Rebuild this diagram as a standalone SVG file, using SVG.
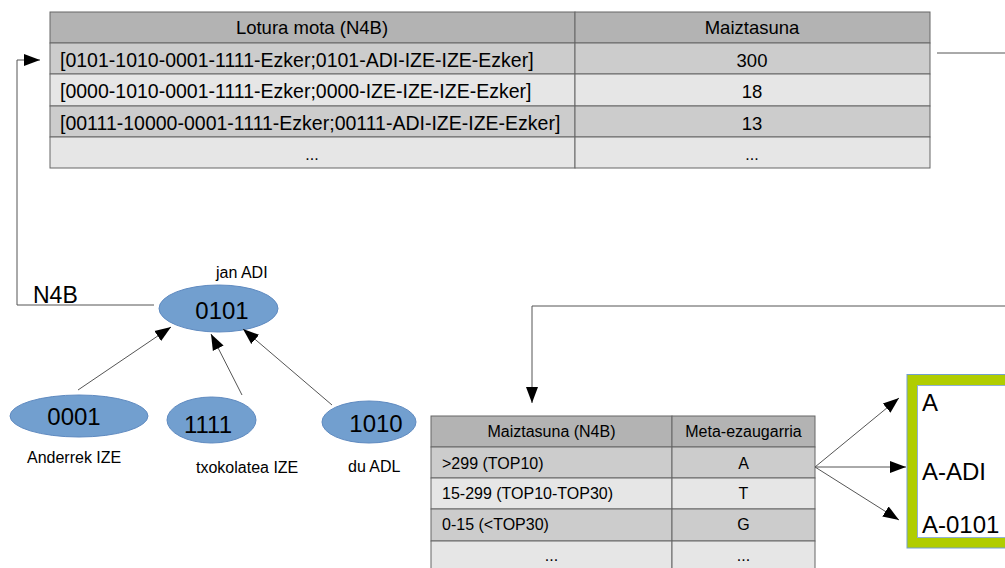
<svg xmlns="http://www.w3.org/2000/svg" width="1005" height="568" viewBox="0 0 1005 568">
  <style>
    text { font-family: "Liberation Sans", Arial, sans-serif; fill: #000; }
    .hd { fill: #b3b3b3; stroke: #666; stroke-width: 1; }
    .dk { fill: #cccccc; stroke: #666; stroke-width: 1; }
    .lt { fill: #e6e6e6; stroke: #666; stroke-width: 1; }
    .t0 { font-size: 18.5px; }
    .t1 { font-size: 19.5px; }
    .t2 { font-size: 16px; }
    .mid { text-anchor: middle; }
    .node { fill: #729fcf; stroke: #5f8ac0; stroke-width: 1; }
    .num { font-size: 24px; }
    .lbl { font-size: 16px; }
    .conn { fill: none; stroke: #555; stroke-width: 1; }
    .big { font-size: 24px; }
  </style>
  <defs>
    <marker id="arr" markerUnits="userSpaceOnUse" markerWidth="16" markerHeight="14" refX="16" refY="7" orient="auto">
      <path d="M0,1 L16,7 L0,13 Z" fill="#000"/>
    </marker>
  </defs>

  <rect width="1005" height="568" fill="#fff"/>

  <!-- link-type frequency table -->
  <g id="table-lotura">
    <rect class="hd" x="50" y="12" width="525" height="31"/>
    <rect class="hd" x="575" y="12" width="355" height="31"/>
    <rect class="dk" x="50" y="43" width="525" height="31"/>
    <rect class="dk" x="575" y="43" width="355" height="31"/>
    <rect class="lt" x="50" y="74" width="525" height="32"/>
    <rect class="lt" x="575" y="74" width="355" height="32"/>
    <rect class="dk" x="50" y="106" width="525" height="31"/>
    <rect class="dk" x="575" y="106" width="355" height="31"/>
    <rect class="lt" x="50" y="137" width="525" height="31"/>
    <rect class="lt" x="575" y="137" width="355" height="31"/>
    <text class="t0 mid" x="312" y="34">Lotura mota (N4B)</text>
    <text class="t0 mid" x="752" y="34">Maiztasuna</text>
    <text class="t1" x="60" y="67">[0101-1010-0001-1111-Ezker;0101-ADI-IZE-IZE-Ezker]</text>
    <text class="t0 mid" x="752" y="67">300</text>
    <text class="t1" x="60" y="98">[0000-1010-0001-1111-Ezker;0000-IZE-IZE-IZE-Ezker]</text>
    <text class="t0 mid" x="752" y="98">18</text>
    <text class="t1" x="60" y="130">[00111-10000-0001-1111-Ezker;00111-ADI-IZE-IZE-Ezker]</text>
    <text class="t0 mid" x="752" y="130">13</text>
    <text class="t2 mid" x="312" y="160">...</text>
    <text class="t2 mid" x="752" y="160">...</text>
  </g>

  <!-- dependency tree -->
  <g id="node-0101">
    <ellipse class="node" cx="218.5" cy="308.5" rx="59.5" ry="23.5"/>
    <text class="num mid" x="222" y="319">0101</text>
    <text class="lbl" x="216" y="278">jan ADI</text>
  </g>
  <g id="node-0001">
    <ellipse class="node" cx="79" cy="416" rx="69" ry="21"/>
    <text class="num mid" x="74" y="425">0001</text>
    <text class="lbl" x="27" y="463">Anderrek IZE</text>
  </g>
  <g id="node-1111">
    <ellipse class="node" cx="211.5" cy="420" rx="44.5" ry="23"/>
    <text class="num mid" x="208" y="433">1111</text>
    <text class="lbl" x="196" y="473">txokolatea IZE</text>
  </g>
  <g id="node-1010">
    <ellipse class="node" cx="369" cy="422" rx="47" ry="21"/>
    <text class="num mid" x="376" y="432">1010</text>
    <text class="lbl" x="348" y="472">du ADL</text>
  </g>

  <!-- meta-feature table -->
  <g id="table-meta">
    <rect class="hd" x="431" y="416" width="241" height="31"/>
    <rect class="hd" x="672" y="416" width="143" height="31"/>
    <rect class="dk" x="431" y="447" width="241" height="31"/>
    <rect class="dk" x="672" y="447" width="143" height="31"/>
    <rect class="lt" x="431" y="478" width="241" height="31"/>
    <rect class="lt" x="672" y="478" width="143" height="31"/>
    <rect class="dk" x="431" y="509" width="241" height="32"/>
    <rect class="dk" x="672" y="509" width="143" height="32"/>
    <rect class="lt" x="431" y="541" width="241" height="32"/>
    <rect class="lt" x="672" y="541" width="143" height="32"/>
    <text class="t2 mid" x="551.5" y="437">Maiztasuna (N4B)</text>
    <text class="t2 mid" x="743.5" y="437">Meta-ezaugarria</text>
    <text class="t2" x="442" y="469">&gt;299 (TOP10)</text>
    <text class="t2 mid" x="743.5" y="469">A</text>
    <text class="t2" x="442" y="499">15-299 (TOP10-TOP30)</text>
    <text class="t2 mid" x="743.5" y="499">T</text>
    <text class="t2" x="442" y="530">0-15 (&lt;TOP30)</text>
    <text class="t2 mid" x="743.5" y="530">G</text>
    <text class="t2 mid" x="551.5" y="561">...</text>
    <text class="t2 mid" x="743.5" y="561">...</text>
  </g>

  <!-- resulting feature box -->
  <g id="feature-box">
    <rect x="907" y="374.5" width="110" height="173.5" fill="#b0cd00" stroke="#729fcf" stroke-width="1"/>
    <rect x="917.5" y="385.5" width="100" height="152" fill="#fff" stroke="#8fb0d6" stroke-width="1"/>
    <text class="big" x="922" y="411">A</text>
    <text class="big" x="922" y="480">A-ADI</text>
    <text class="big" x="922" y="533">A-0101</text>
  </g>

  <!-- connectors -->
  <g id="connectors">
    <path class="conn" d="M154,305 H17 V60 H40" marker-end="url(#arr)"/>
    <text x="33" y="303" style="font-size:23px">N4B</text>
    <path class="conn" d="M937,53 H1005"/>
    <path class="conn" d="M1005,306 H532 V403" marker-end="url(#arr)"/>
    <path class="conn" d="M78,390 L171,327" marker-end="url(#arr)"/>
    <path class="conn" d="M242,395 L211,334" marker-end="url(#arr)"/>
    <path class="conn" d="M332,405 L243,329" marker-end="url(#arr)"/>
    <path class="conn" d="M815,467 L899,398" marker-end="url(#arr)"/>
    <path class="conn" d="M815,467 H906" marker-end="url(#arr)"/>
    <path class="conn" d="M815,467 L899,520" marker-end="url(#arr)"/>
  </g>
</svg>
